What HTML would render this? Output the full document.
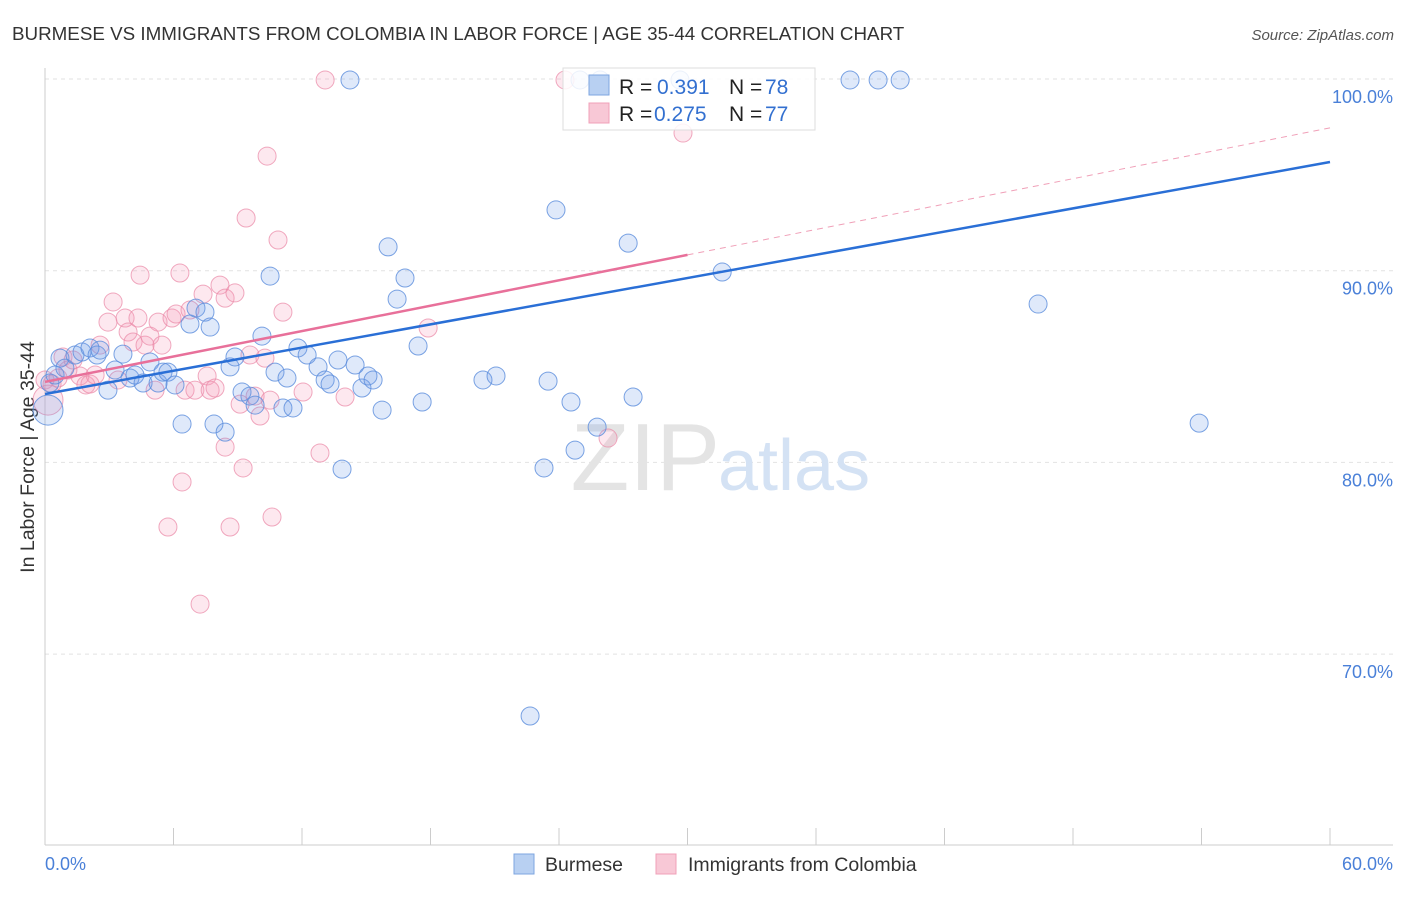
<!DOCTYPE html>
<html><head><meta charset="utf-8"><style>
body{margin:0;background:#fff;font-family:"Liberation Sans",sans-serif;}
svg text{font-family:"Liberation Sans",sans-serif;}
</style></head><body>
<svg id="chart" width="1406" height="892">
<text x="12" y="40" font-size="18.8" fill="#333">BURMESE VS IMMIGRANTS FROM COLOMBIA IN LABOR FORCE | AGE 35-44 CORRELATION CHART</text>
<text x="1394" y="40" font-size="15" fill="#555" font-style="italic" text-anchor="end">Source: ZipAtlas.com</text>
<text x="0" y="0" transform="translate(34,457) rotate(-90)" font-size="19.5" fill="#333" text-anchor="middle">In Labor Force | Age 35-44</text>
<g id="grid"></g>
<text x="720" y="490" font-size="96" fill="#e4e4e4" text-anchor="end" font-family="Liberation Serif">ZIP</text>
<text x="718" y="490" font-size="72" fill="#d4e2f4">atlas</text>
<g id="pts"></g>
<g id="lines"></g>
<g>
<rect x="563" y="68" width="252" height="62" fill="rgba(255,255,255,0.85)" stroke="#ddd"/>
<rect x="589" y="75" width="20" height="20" fill="#b8d0f2" stroke="#7ea6e0"/>
<text x="619" y="94" font-size="21" fill="#222">R =</text>
<text x="657" y="94" font-size="21" fill="#3370d0">0.391</text>
<text x="729" y="94" font-size="21" fill="#222">N =</text>
<text x="765" y="94" font-size="21" fill="#3370d0">78</text>
<rect x="589" y="103" width="20" height="20" fill="#f8c8d6" stroke="#f0a0b8"/>
<text x="619" y="121" font-size="21" fill="#222">R =</text>
<text x="654" y="121" font-size="21" fill="#3370d0">0.275</text>
<text x="729" y="121" font-size="21" fill="#222">N =</text>
<text x="765" y="121" font-size="21" fill="#3370d0">77</text>
</g>
<g>
<rect x="514" y="854" width="20" height="20" fill="#b8d0f2" stroke="#7ea6e0"/>
<text x="545" y="871" font-size="19.5" fill="#333">Burmese</text>
<rect x="656" y="854" width="20" height="20" fill="#f8c8d6" stroke="#f0a0b8"/>
<text x="688" y="871" font-size="19.5" fill="#333">Immigrants from Colombia</text>
</g>
</svg>
<script>
const yTicks=[100,90,80,70];
const yTickLabels=["100.0%","90.0%","80.0%","70.0%"];
const xTickLabels=["0.0%","60.0%"];
const blueX=[0.14,0.23,0.47,0.70,0.93,1.40,1.73,2.10,2.43,2.57,2.94,3.27,3.64,3.97,4.20,4.58,4.90,5.28,5.51,5.74,6.07,6.40,6.77,7.05,7.47,7.71,7.89,8.41,8.64,8.87,9.20,9.57,9.81,10.13,10.51,10.74,11.11,11.30,11.58,11.81,12.24,12.75,13.08,13.31,13.68,13.87,14.24,14.48,14.80,15.08,15.32,15.74,16.02,16.44,16.81,17.42,17.61,20.45,21.06,22.65,23.30,23.49,23.86,24.56,24.75,24.98,25.78,25.92,27.23,27.46,29.65,31.62,37.59,38.90,39.93,46.37,53.89];
const blueY=[82.73,84.14,84.56,85.44,84.92,85.60,85.76,85.97,85.60,85.86,83.77,84.82,85.65,84.40,84.56,84.14,85.24,84.14,84.71,84.71,84.04,82.00,87.22,88.05,87.84,87.06,82.00,81.58,84.98,85.50,83.67,83.46,82.99,86.59,89.72,84.71,82.84,84.40,82.84,85.97,85.60,84.98,84.30,84.09,85.34,79.65,99.95,85.08,83.88,84.51,84.30,82.73,91.24,88.52,89.62,86.07,83.15,84.30,84.51,66.77,79.71,84.24,93.17,83.15,80.64,99.95,81.84,99.95,91.44,83.41,99.95,89.93,99.95,99.95,99.95,88.26,82.05];
const pinkX=[0,0.14,0.33,0.61,0.84,1.07,1.31,1.63,1.91,2.10,2.34,2.57,2.94,3.18,3.41,3.74,3.88,4.11,4.34,4.44,4.67,4.90,5.14,5.28,5.46,5.74,5.93,6.12,6.30,6.40,6.54,6.77,7.00,7.24,7.38,7.57,7.71,7.94,8.17,8.41,8.41,8.64,8.87,9.11,9.25,9.39,9.57,9.81,10.04,10.27,10.37,10.51,10.60,10.88,11.11,12.05,12.84,13.08,14.01,17.89,24.28,26.29,29.79];
const pinkY=[84.30,83.25,84.09,84.40,85.50,84.82,85.34,84.51,84.04,84.09,84.56,86.12,87.32,88.37,84.30,87.53,86.80,86.28,87.53,89.77,86.12,86.59,83.77,87.32,86.12,76.63,87.53,87.74,89.88,78.98,83.77,87.95,83.77,72.61,88.78,84.51,83.77,83.88,89.25,88.57,80.80,76.63,88.84,83.04,79.71,92.75,85.60,83.46,82.42,85.44,95.98,83.25,77.15,91.60,87.84,83.67,80.49,99.95,83.41,87.01,99.95,81.27,97.18];
const blueLine=[83.57,95.67];
const pinkLine=[84.2,97.45];
const NS="http://www.w3.org/2000/svg";
const X0=45,X1=1330,Y100=79,PPU=19.17;
const xs=v=>X0+v/60*(X1-X0);
const ys=v=>Y100+(100-v)*PPU;
function mk(tag,attrs,parent){const e=document.createElementNS(NS,tag);for(const k in attrs)e.setAttribute(k,attrs[k]);parent.appendChild(e);return e;}
const grid=document.getElementById('grid');
yTicks.forEach((t,i)=>{
 const l=mk('line',{x1:X0,x2:1393,y1:ys(t),y2:ys(t),stroke:'#e2e2e2','stroke-dasharray':'4,4'},grid);
 
 
 const tx=mk('text',{x:1393,y:ys(t)+24,'font-size':18,fill:'#4a80d8','text-anchor':'end'},grid);
 tx.textContent=yTickLabels[i];
 
 
});
mk('line',{x1:X0,x2:X0,y1:68,y2:845,stroke:'#ccc'},grid);
mk('line',{x1:X0,x2:1393,y1:845,y2:845,stroke:'#ccc'},grid);
for(let i=0;i<=10;i++){const l=mk('line',{x1:xs(i*6),x2:xs(i*6),y1:828,y2:845,stroke:'#ccc'},grid);
 
 }
const t0=mk('text',{x:45,y:870,'font-size':18,fill:'#4a80d8'},grid);t0.textContent=xTickLabels[0];


const t1=mk('text',{x:1393,y:870,'font-size':18,fill:'#4a80d8','text-anchor':'end'},grid);t1.textContent=xTickLabels[1];


const pts=document.getElementById('pts');
function dots(X,Y,fill,stroke,name){X.forEach((x,i)=>{
 const c=mk('circle',{cx:xs(x),cy:ys(Y[i]),r:(i===0&&name==='burmese-point')||(i===1&&name==='colombia-point')?15:9,fill:fill,stroke:stroke,'stroke-width':1},pts);
 
 });}
dots(pinkX,pinkY,'rgba(244,150,180,0.22)','rgba(235,140,170,0.75)','colombia-point');
dots(blueX,blueY,'rgba(110,155,230,0.22)','rgba(90,140,220,0.8)','burmese-point');
const lg=document.getElementById('lines');
const bl=mk('line',{x1:xs(0),y1:ys(blueLine[0]),x2:xs(60),y2:ys(blueLine[1]),stroke:'#2a6fd6','stroke-width':2.5},lg);


const pm=pinkLine[0]+(pinkLine[1]-pinkLine[0])*0.5;
const pl=mk('line',{x1:xs(0),y1:ys(pinkLine[0]),x2:xs(30),y2:ys(pm),stroke:'#e8709a','stroke-width':2.5},lg);


const pd=mk('line',{x1:xs(30),y1:ys(pm),x2:xs(60),y2:ys(pinkLine[1]),stroke:'#f0a0b8','stroke-width':1,'stroke-dasharray':'6,5'},lg);


</script>
</body></html>
